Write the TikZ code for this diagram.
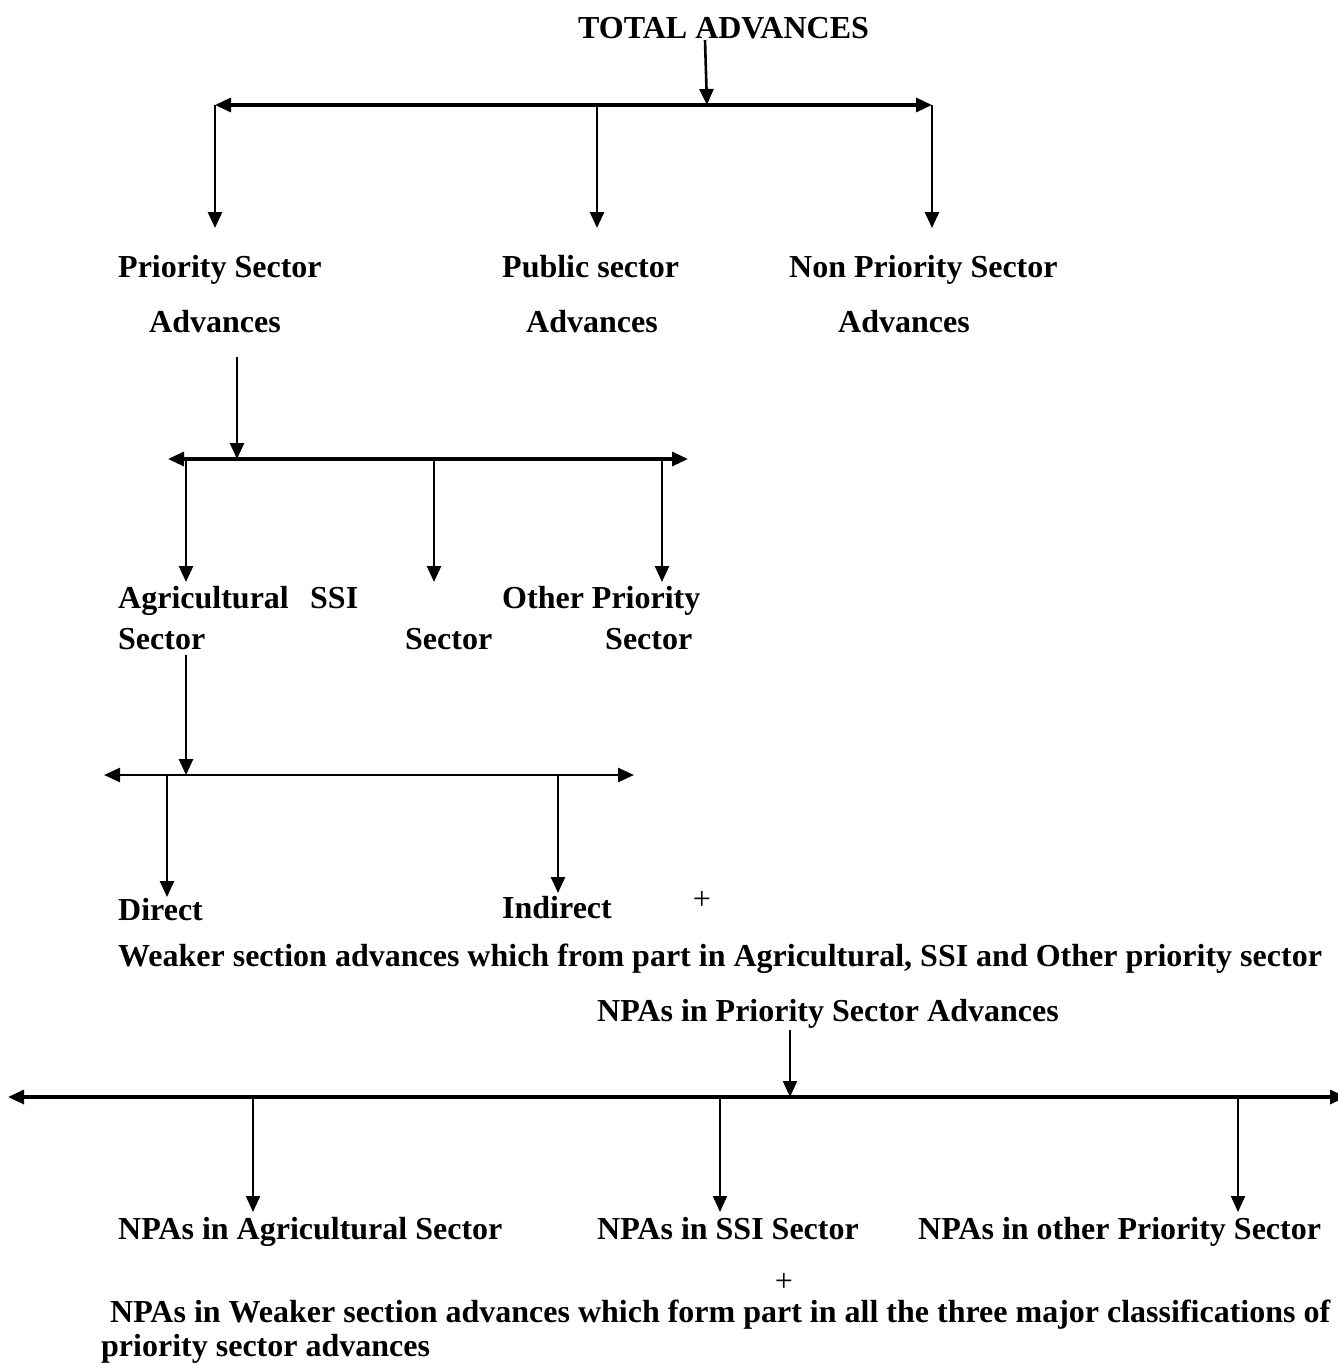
\documentclass[tikz,border=0pt]{standalone}
\usepackage{fontspec}
\setmainfont{Liberation Serif}
\usetikzlibrary{arrows.meta}
\begin{document}
\begin{tikzpicture}[x=1pt,y=-1pt,
  tip/.tip={Triangle[length=16pt,width=14pt]},
  arr/.style={line width=2.6pt,-tip},
  dbl/.style={line width=3.2pt,tip-tip},
  lbl/.style={anchor=base west,inner sep=0pt,font=\bfseries\fontsize{32}{38}\selectfont},
  plus/.style={anchor=center,inner sep=0pt,font=\fontsize{32}{38}\selectfont}]
\useasboundingbox (0,0) rectangle (1338,1365);
% ---- level 1
\node[lbl] (ta) at (578,38) {TOTAL ADVANCES};
\coordinate (taout) at (705,40);
\coordinate (b1l) at (215,105); \coordinate (b1r) at (932,105);
\coordinate (b1j) at (707,105);
\draw[dbl] (b1r) -- (b1l);
\draw[arr] (taout) -- (b1j);
\coordinate (b1m) at (597,105);
\coordinate (d1a) at (215,228); \coordinate (d1b) at (597,228); \coordinate (d1c) at (932,228);
\draw[arr] (b1l) -- (d1a);
\draw[arr] (b1m) -- (d1b);
\draw[arr] (b1r) -- (d1c);
\node[lbl] (ps1) at (118,277) {Priority Sector};
\node[lbl] (ps2) at (149,332) {Advances};
\node[lbl] (pu1) at (502,277) {Public sector};
\node[lbl] (pu2) at (526,332) {Advances};
\node[lbl] (np1) at (789,277) {Non Priority Sector};
\node[lbl] (np2) at (838,332) {Advances};
% ---- level 2
\coordinate (psout) at (237,357);
\coordinate (b2l) at (168,459); \coordinate (b2r) at (688,459);
\coordinate (b2j) at (237,459);
\draw[dbl] (b2l) -- (b2r);
\draw[arr] (psout) -- (b2j);
\coordinate (b2a) at (186,459); \coordinate (b2b) at (434,459); \coordinate (b2c) at (662,459);
\coordinate (d2a) at (186,582); \coordinate (d2b) at (434,582); \coordinate (d2c) at (662,582);
\draw[arr] (b2a) -- (d2a);
\draw[arr] (b2b) -- (d2b);
\draw[arr] (b2c) -- (d2c);
\node[lbl] (ag1) at (118,608) {Agricultural};
\node[lbl] (ssi1) at (310,608) {SSI};
\node[lbl] (op1) at (502,608) {Other Priority};
\node[lbl] (ag2) at (118,649) {Sector};
\node[lbl] (ssi2) at (405,649) {Sector};
\node[lbl] (op2) at (605,649) {Sector};
% ---- level 3
\coordinate (agout) at (186,655);
\coordinate (b3l) at (104,775); \coordinate (b3r) at (634,775);
\coordinate (b3j) at (186,775);
\draw[dbl,line width=2.6pt] (b3l) -- (b3r);
\draw[arr] (agout) -- (b3j);
\coordinate (b3a) at (167,775); \coordinate (b3b) at (558,775);
\coordinate (d3a) at (167,897); \coordinate (d3b) at (558,893);
\draw[arr] (b3a) -- (d3a);
\draw[arr] (b3b) -- (d3b);
\node[lbl] (dir) at (118,920) {Direct};
\node[lbl] (ind) at (502,918) {Indirect};
\node[plus] (p1) at (702,900) {+};
\node[lbl] (wk) at (118,966) {Weaker section advances which from part in Agricultural, SSI and Other priority sector};
% ---- NPAs
\node[lbl] (npa) at (597,1021) {NPAs in Priority Sector Advances};
\coordinate (npaout) at (790,1030);
\coordinate (b4l) at (8,1097); \coordinate (b4r) at (1346,1097);
\coordinate (b4j) at (790,1097);
\draw[dbl] (b4l) -- (b4r);
\draw[arr,line width=2pt] (npaout) -- (b4j);
\coordinate (b4a) at (253,1097); \coordinate (b4b) at (720,1097); \coordinate (b4c) at (1238,1097);
\coordinate (d4a) at (253,1212); \coordinate (d4b) at (720,1212); \coordinate (d4c) at (1238,1212);
\draw[arr,line width=2pt] (b4a) -- (d4a);
\draw[arr,line width=2pt] (b4b) -- (d4b);
\draw[arr,line width=2pt] (b4c) -- (d4c);
\node[lbl] (na) at (118,1239) {NPAs in Agricultural Sector};
\node[lbl] (ns) at (597,1239) {NPAs in SSI Sector};
\node[lbl] (no) at (918,1239) {NPAs in other Priority Sector};
\node[plus] (p2) at (784,1282) {+};
\node[lbl] (nw1) at (110,1322) {NPAs in Weaker section advances which form part in all the three major classifications of};
\node[lbl] (nw2) at (101,1356) {priority sector advances};
\end{tikzpicture}
\end{document}
